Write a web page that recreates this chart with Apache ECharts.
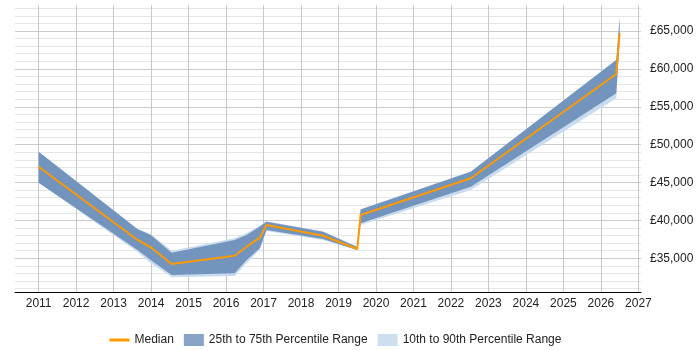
<!DOCTYPE html>
<html>
<head>
<meta charset="utf-8">
<script src="https://cdn.jsdelivr.net/npm/echarts@6/dist/echarts.min.js"></script>
<style>
  html, body { margin: 0; padding: 0; background: #fff; }
  #chart { width: 700px; height: 350px; }
</style>
</head>
<body>
<div id="chart"></div>
<script>
// decimal years of each sample point
const years = [2011.0, 2013.64, 2013.99, 2014.55, 2016.23, 2016.55, 2016.9, 2017.08, 2018.59, 2019.5, 2019.59, 2022.53, 2026.41, 2026.5];
const median = [47090, 37420, 36450, 34250, 35340, 36530, 37720, 39400, 37980, 36230, 40720, 45560, 59330, 64700];
const p25 = [44980, 36100, 34780, 32800, 33020, 34780, 36320, 38740, 37550, 36100, 39620, 44450, 56780, 63800];
const p75 = [49070, 38830, 38080, 35740, 37420, 38080, 39200, 39830, 38510, 36500, 41440, 46430, 61170, 66680];
const p10 = [44980, 35830, 34380, 32490, 32670, 34380, 36100, 38600, 37420, 36050, 39400, 44020, 56120, 63500];
const p90 = [49070, 38900, 38200, 35980, 37640, 38340, 39250, 39900, 38550, 36550, 41480, 46450, 61200, 66700];

const yearTicks = [2011, 2012, 2013, 2014, 2015, 2016, 2017, 2018, 2019, 2020, 2021, 2022, 2023, 2024, 2025, 2026, 2027];
const priceTicks = [35000, 40000, 45000, 50000, 55000, 60000, 65000];
const minorTicks = [];
for (let v = 31000; v <= 68000; v += 1000) minorTicks.push(v);

const yMin = 30550;
const yMax = 68430;
const font = "'Liberation Sans', Arial, sans-serif";

const bandSeries = (name, lower, upper, color) => ({
  type: "custom",
  name: name,
  yAxisIndex: 1,
  silent: true,
  itemStyle: { color: color },
  data: years.map((x, i) => [x, lower[i], upper[i]]),
  encode: { x: 0, y: [1, 2] },
  renderItem: (params, api) => {
    if (params.dataIndex !== 0) return;
    const top = years.map((x, i) => api.coord([x, upper[i]]));
    const bottom = years.map((x, i) => api.coord([x, lower[i]])).reverse();
    return {
      type: "polygon",
      shape: { points: top.concat(bottom) },
      style: { fill: color },
    };
  },
});

const myChart = echarts.init(document.getElementById("chart"));
const option = {
  animation: false,
  textStyle: { fontFamily: font },
  grid: { left: 15, right: 59, top: 5, bottom: 58, outerBoundsMode: "none" },
  legend: {
    left: 103,
    top: 329,
    itemWidth: 20,
    itemHeight: 12,
    itemGap: 10,
    textStyle: { fontSize: 12, color: "#222", fontFamily: font },
    data: [
      { name: "Median", itemStyle: { opacity: 0 }, lineStyle: { width: 3 } },
      { name: "25th to 75th Percentile Range", icon: "rect", itemStyle: { color: "#88a5c7" } },
      { name: "10th to 90th Percentile Range", icon: "rect", itemStyle: { color: "#cddef0" } },
    ],
  },
  xAxis: {
    type: "value",
    min: 2010.37,
    max: 2027.07,
    axisLine: { lineStyle: { color: "#000", width: 1 } },
    axisTick: { show: false, customValues: yearTicks },
    axisLabel: {
      customValues: yearTicks,
      formatter: (v) => v.toFixed(0),
      color: "#222",
      fontSize: 12,
      margin: 6,
    },
    splitLine: { show: true, lineStyle: { color: "#c8c8c8", width: 1 } },
  },
  yAxis: [
    {
      type: "value",
      position: "right",
      min: yMin,
      max: yMax,
      axisLine: { show: false },
      axisTick: { show: false, customValues: minorTicks },
      axisLabel: { show: false, customValues: minorTicks },
      splitLine: { show: true, lineStyle: { color: "#e6e6e6", width: 1 } },
    },
    {
      type: "value",
      position: "right",
      min: yMin,
      max: yMax,
      axisLine: { show: false },
      axisTick: { show: false, customValues: priceTicks },
      axisLabel: {
        customValues: priceTicks,
        formatter: (v) => "£" + v.toLocaleString("en-GB"),
        color: "#222",
        fontSize: 12,
        margin: 9,
      },
      splitLine: { show: true, lineStyle: { color: "#cccccc", width: 1 } },
    },
  ],
  series: [
    bandSeries("10th to 90th Percentile Range", p10, p90, "#c9dbee"),
    bandSeries("25th to 75th Percentile Range", p25, p75, "#7294bd"),
    {
      type: "line",
      name: "Median",
      yAxisIndex: 1,
      symbol: "none",
      color: "#ff9900",
      lineStyle: { color: "#ff9900", width: 2 },
      data: years.map((x, i) => [x, median[i]]),
    },
  ],
};

option && myChart.setOption(option);
</script>
</body>
</html>
